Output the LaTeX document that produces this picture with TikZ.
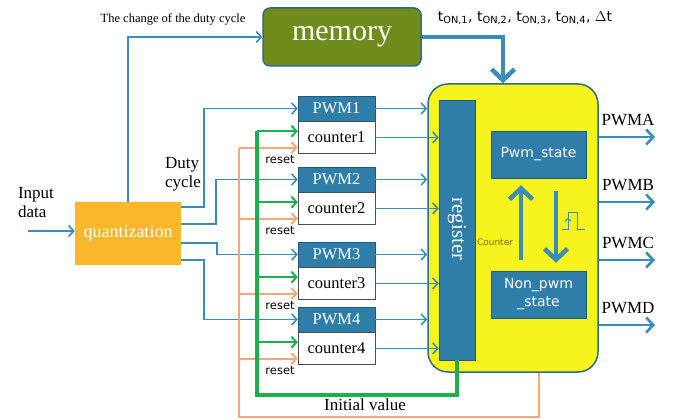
\documentclass[tikz,border=0pt]{standalone}
\usepackage{fontspec}
\setmainfont{Liberation Serif}
\newfontfamily\labelfont{DejaVu Sans}
\usetikzlibrary{arrows.meta,positioning}
\definecolor{lineblue}{HTML}{3A8DB8}
\definecolor{boxblue}{HTML}{2F7EA9}
\definecolor{boxedge}{HTML}{1D5C7E}
\definecolor{memgreen}{HTML}{718C1D}
\definecolor{memedge}{HTML}{2E6A86}
\definecolor{quantorange}{HTML}{FBB72C}
\definecolor{ctrlyellow}{HTML}{F7F31C}
\definecolor{ctrledge}{HTML}{2B6C8F}
\definecolor{initgreen}{HTML}{1DAF4C}
\definecolor{resetorange}{HTML}{F5A67A}
\definecolor{counterbrown}{HTML}{8A6A00}
\tikzset{
    blue-box/.style = {fill=boxblue, draw=boxedge, text=white, inner sep=0pt},
    pwm-box/.style = {blue-box, minimum width=77pt, minimum height=25pt, font=\fontsize{16.5}{16}\selectfont},
    counter-box/.style = {draw=gray!60!black, fill=white, minimum width=77pt, minimum height=32pt, inner sep=0pt, font=\fontsize{16.5}{16}\selectfont},
    state-box/.style = {blue-box, minimum width=95pt, minimum height=47pt, align=center, font=\labelfont\fontsize{14}{18}\selectfont},
    sig/.style = {draw=lineblue, line width=1.6pt, -{Straight Barb[length=5pt,width=11pt]}},
    out-sig/.style = {draw=lineblue, line width=2.6pt, -{Straight Barb[length=7pt,width=15pt]}},
    thick-sig/.style = {draw=lineblue, line width=4.5pt, -{Straight Barb[length=11pt,width=23pt]}},
    init-line/.style = {draw=initgreen, line width=4.5pt},
    init-arrow/.style = {draw=initgreen, line width=2pt, -{Straight Barb[length=5pt,width=11pt]}},
    reset-line/.style = {draw=resetorange, line width=2pt},
    reset-arrow/.style = {reset-line, -{Straight Barb[length=5pt,width=11pt]}},
    reset-label/.style = {font=\labelfont\fontsize{11.5}{11}\selectfont, inner sep=0pt, anchor=north east},
    big-label/.style = {font=\fontsize{17}{19}\selectfont},
}
\begin{document}
\begin{tikzpicture}[x=1pt, y=-1pt]
\useasboundingbox (0,0) rectangle (683,420);

\node[draw=memedge, fill=memgreen, line width=1.5pt, rounded corners=7pt, minimum width=158pt, minimum height=58pt, text=white, font=\fontsize{30}{30}\selectfont] (mem) at (342,37) {memory};
\node[fill=quantorange, minimum width=106pt, minimum height=63pt, text=white, font=\fontsize{18}{18}\selectfont] (quant) at (128,233.5) {quantization};
\node[draw=ctrledge, fill=ctrlyellow, line width=1.5pt, rounded corners=20pt, minimum width=170pt, minimum height=288pt] (ctrl) at (513,228) {};
\node[blue-box, minimum width=36pt, minimum height=260pt] (reg) at (457,230) {};
\node[text=white, rotate=-90, font=\fontsize{21}{21}\selectfont] (reg-text) at (457,229) {register};
\node[state-box] (pws) at (538.5,154.5) {Pwm\_state};
\node[state-box] (nps) at (538.5,294.5) {Non\_pwm\\\_state};

\node[pwm-box] (pwm1) at (336.5,108.5) {PWM1};
\node[counter-box, below=0pt of pwm1] (cnt1) {counter1};
\node[pwm-box] (pwm2) at (336.5,179.5) {PWM2};
\node[counter-box, below=0pt of pwm2] (cnt2) {counter2};
\node[pwm-box] (pwm3) at (336.5,254.5) {PWM3};
\node[counter-box, below=0pt of pwm3] (cnt3) {counter3};
\node[pwm-box] (pwm4) at (336.5,319.5) {PWM4};
\node[counter-box, below=0pt of pwm4] (cnt4) {counter4};

\node[big-label, align=left] (input) at (36,203) {Input\\data};
\node[big-label, align=left] (duty) at (183,174) {Duty\\cycle};
\node[font=\fontsize{12.5}{13}\selectfont] (change) at (173,19) {The change of the duty cycle};
\node[font=\labelfont\fontsize{14}{14}\selectfont] (ton) at (525,18) {t\textsubscript{ON,1}, t\textsubscript{ON,2}, t\textsubscript{ON,3}, t\textsubscript{ON,4}, $\Delta$t};
\node[big-label] (init) at (365,405) {Initial value};
\node[font=\labelfont\fontsize{9}{9}\selectfont, text=counterbrown] (cnt-label) at (495,242) {Counter};

% input side
\coordinate (in) at (28,231);
\draw[sig] (in) -- (in -| quant.west);
\draw[sig] (quant.north) |- (mem.west);
\draw[sig] ([yshift=26.5pt]quant.east) -| ([xshift=-94pt]pwm1.west) -- (pwm1.west);
\draw[sig] ([yshift=9.5pt]quant.east) -| ([xshift=-82pt]pwm2.west) -- (pwm2.west);
\draw[sig] ([yshift=-9.5pt]quant.east) -| ([xshift=-81pt]pwm3.west) -- (pwm3.west);
\draw[sig] ([yshift=-26.5pt]quant.east) -| ([xshift=-94pt]pwm4.west) -- (pwm4.west);

% into the controller
\draw[thick-sig] (mem.east) -| ([xshift=-10pt]ctrl.north);
\draw[sig] (pwm1.east) -- (pwm1.east -| ctrl.west);
\draw[sig] (cnt1.east) -- (cnt1.east -| reg.west);
\draw[sig] (pwm2.east) -- (pwm2.east -| ctrl.west);
\draw[sig] (cnt2.east) -- (cnt2.east -| reg.west);
\draw[sig] (pwm3.east) -- (pwm3.east -| ctrl.west);
\draw[sig] (cnt3.east) -- (cnt3.east -| reg.west);
\draw[sig] (pwm4.east) -- (pwm4.east -| ctrl.west);
\draw[sig] (cnt4.east) -- (cnt4.east -| reg.west);

% reset and initial value feedback
\coordinate (g1) at ([yshift=-10pt]cnt1.north west);
\coordinate (g2) at ([yshift=-10pt]cnt2.north west);
\coordinate (g3) at ([yshift=-10pt]cnt3.north west);
\coordinate (g4) at ([yshift=-10pt]cnt4.north west);
\coordinate (r1) at ([yshift=6pt]cnt1.south west);
\coordinate (r2) at ([yshift=6pt]cnt2.south west);
\coordinate (r3) at ([yshift=6pt]cnt3.south west);
\coordinate (r4) at ([yshift=6pt]cnt4.south west);
\coordinate (reset-corner) at (239,417);
\coordinate (init-corner) at (257,395);

\draw[reset-line] ([xshift=26pt]ctrl.south) |- (reset-corner) -- (reset-corner |- r1);
\draw[reset-arrow] (reset-corner |- r1) -- (r1);
\draw[reset-arrow] (reset-corner |- r2) -- (r2);
\draw[reset-arrow] (reset-corner |- r3) -- (r3);
\draw[reset-arrow] (reset-corner |- r4) -- (r4);
\draw[init-line] (reg.south) |- (init-corner) -- (init-corner |- g1);
\draw[init-arrow] (init-corner |- g1) -- (g1);
\draw[init-arrow] (init-corner |- g2) -- (g2);
\draw[init-arrow] (init-corner |- g3) -- (g3);
\draw[init-arrow] (init-corner |- g4) -- (g4);

\node[reset-label] (reset1) at ([xshift=-3pt,yshift=-2pt]cnt1.south west) {reset};
\node[reset-label] (reset2) at ([xshift=-3pt,yshift=-2pt]cnt2.south west) {reset};
\node[reset-label] (reset3) at ([xshift=-3pt,yshift=-2pt]cnt3.south west) {reset};
\node[reset-label] (reset4) at ([xshift=-3pt,yshift=-2pt]cnt4.south west) {reset};

% state machine
\draw[thick-sig, shorten <=11pt, shorten >=7pt] ([xshift=-17.5pt]nps.north) -- ([xshift=-17.5pt]pws.south);
\draw[thick-sig, shorten <=13pt, shorten >=8pt] ([xshift=17.5pt]pws.south) -- ([xshift=17.5pt]nps.north);
\draw[lineblue, line width=1pt] (562,229) -- (568,229) -- (568,212) -- (577,212) -- (577,229) -- (585,229);
\draw[lineblue, line width=1pt, -{Straight Barb[length=2.5pt,width=6pt]}] (568,229) -- (568,218);

% outputs
\coordinate (outA) at (655,137);
\coordinate (outB) at (655,202);
\coordinate (outC) at (655,260);
\coordinate (outD) at (655,325);
\draw[out-sig] (ctrl.east |- outA) -- (outA);
\draw[out-sig] (ctrl.east |- outB) -- (outB);
\draw[out-sig] (ctrl.east |- outC) -- (outC);
\draw[out-sig] (ctrl.east |- outD) -- (outD);
\node[big-label, anchor=south] (pwmA) at ([xshift=-27pt,yshift=8pt]outA) {PWMA};
\node[big-label, anchor=south] (pwmB) at ([xshift=-27pt,yshift=8pt]outB) {PWMB};
\node[big-label, anchor=south] (pwmC) at ([xshift=-27pt,yshift=8pt]outC) {PWMC};
\node[big-label, anchor=south] (pwmD) at ([xshift=-27pt,yshift=8pt]outD) {PWMD};
\end{tikzpicture}
\end{document}
